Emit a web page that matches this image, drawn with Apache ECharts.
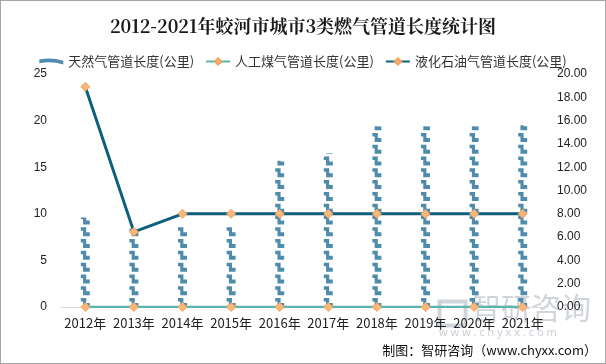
<!DOCTYPE html>
<html><head><meta charset="utf-8">
<script src="https://cdn.jsdelivr.net/npm/echarts@6/dist/echarts.min.js"></script>
<style>
html,body{margin:0;padding:0;background:#fff;}
#c{width:604px;height:362px;border:1px solid #a6a6a6;}
</style></head>
<body><div id="c"></div>
<script>
const categories = ['2012年','2013年','2014年','2015年','2016年','2017年','2018年','2019年','2020年','2021年'];
const naturalGas = [9.6, 8.4, 8.8, 8.7, 15.7, 16.5, 19.4, 19.4, 19.4, 19.5];
const artificialGas = [0, 0, 0, 0, 0, 0, 0, 0, 0, 0];
const lpg = [18.9, 6.45, 8, 8, 8, 8, 8, 8, 8, 8];
const seriesNames = ['天然气管道长度(公里)','人工煤气管道长度(公里)','液化石油气管道长度(公里)'];

const pipe = 'path://M0,0 L6,0 L6,5 L10,5 L10,9 L2.5,9 L2.5,3.5 L0,3.5 Z';
const chart = echarts.init(document.getElementById('c'));
chart.setOption({
  animation:false,
  title:{text:'2012-2021年蛟河市城市3类燃气管道长度统计图',left:'center',top:11,
    textStyle:{fontSize:18,fontWeight:'bold',color:'#1a1a1a',fontFamily:'Noto Serif CJK SC, Noto Sans CJK SC, serif'}},
  legend:{top:49,left:'center',itemGap:11,itemWidth:24,itemHeight:8,
    textStyle:{fontSize:13,color:'#333',fontFamily:'Noto Sans CJK SC'},
    data:[{name:seriesNames[0],icon:'path://M0,2 Q10,0 20,3 L20,6 Q10,3 0,5 Z'},{name:seriesNames[1]},{name:seriesNames[2]}]},
  grid:{left:60,right:58,top:73,bottom:56},
  xAxis:{type:'category',data:categories,
    axisLine:{lineStyle:{color:'#d9d9d9'}},axisTick:{show:false},
    axisLabel:{color:'#222',fontSize:13,margin:10,interval:0,fontFamily:'Noto Sans CJK SC'}},
  yAxis:[
    {type:'value',min:0,max:25,interval:5,splitLine:{show:false},axisLine:{show:false},axisTick:{show:false},
      axisLabel:{color:'#222',fontSize:12,margin:14}},
    {type:'value',min:0,max:20,interval:2,splitLine:{show:false},axisLine:{show:false},axisTick:{show:false},
      axisLabel:{color:'#222',fontSize:12,margin:10,formatter:v=>v.toFixed(2)}}
  ],
  series:[
    {name:seriesNames[0],type:'pictorialBar',yAxisIndex:0,data:naturalGas,
      symbol:pipe,symbolRepeat:true,symbolClip:true,symbolSize:[9,9],symbolMargin:1.5,barWidth:10,
      symbolPosition:'start',
      itemStyle:{color:'#4f8cab'},z:2},
    {name:seriesNames[1],type:'line',yAxisIndex:1,data:artificialGas,
      symbol:'diamond',symbolSize:9,lineStyle:{color:'#5ab5aa',width:2.5},
      itemStyle:{color:'#f9b77a',borderColor:'#f3a25c',borderWidth:1},z:4},
    {name:seriesNames[2],type:'line',yAxisIndex:1,data:lpg,
      symbol:'diamond',symbolSize:9,lineStyle:{color:'#0d5f7f',width:3},
      itemStyle:{color:'#f9b77a',borderColor:'#f3a25c',borderWidth:1},z:5}
  ],
  color:['#4f8cab','#5ab5aa','#0d5f7f'],
  graphic:[
    {type:'text',right:8,bottom:6,style:{text:'制图：智研咨询（www.chyxx.com）',fontSize:13,fill:'#111',fontFamily:'Noto Sans CJK SC'}},
    {type:'text',left:470,top:292,style:{text:'智研咨询',fontSize:30,fill:'rgba(150,160,175,0.45)',fontFamily:'Noto Sans CJK SC'},z:0},
    {type:'text',left:438,top:326,style:{text:'w w w . c h y x x . c o m',fontSize:11,fill:'rgba(150,160,175,0.5)',fontFamily:'Noto Sans'},z:0},
    {type:'rect',left:436,top:298,shape:{width:26,height:24},style:{fill:'none',stroke:'rgba(150,160,175,0.45)',lineWidth:4},z:0}
  ]
});
</script></body></html>
